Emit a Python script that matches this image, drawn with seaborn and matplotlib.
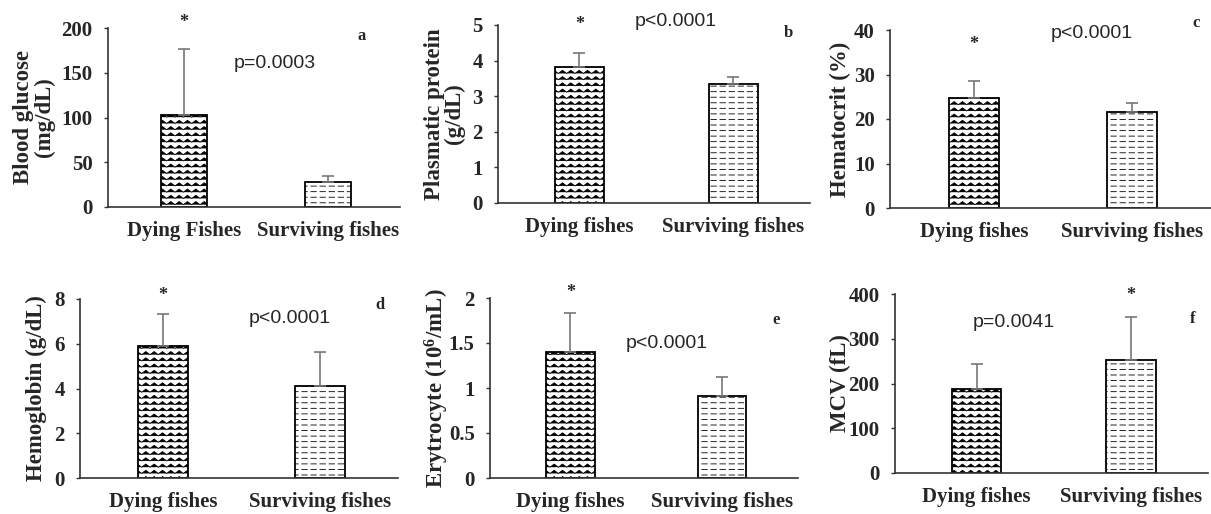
import warnings
import numpy as np
import pandas as pd
import seaborn as sns
import matplotlib
matplotlib.use("Agg")
import matplotlib.pyplot as plt
import matplotlib.hatch as mhatch
from matplotlib.path import Path

warnings.filterwarnings("ignore")

# groups on the x axis
groups_lower = ["Dying fishes", "Surviving fishes"]
groups_a = ["Dying Fishes", "Surviving fishes"]

# means and upper error (SD)
glucose = [103, 28]
glucose_sd = [73, 7]
protein = [3.82, 3.33]
protein_sd = [0.38, 0.22]
hematocrit = [24.8, 21.5]
hematocrit_sd = [3.7, 2.0]
hemoglobin = [5.9, 4.1]
hemoglobin_sd = [1.45, 1.55]
erythrocyte = [1.40, 0.91]
erythrocyte_sd = [0.43, 0.21]
mcv = [188, 253]
mcv_sd = [56, 95]

ylabels = ["Blood glucose\n(mg/dL)", "Plasmatic protein\n(g/dL)", "Hematocrit (%)",
           "Hemoglobin (g/dL)", "Erytrocyte (10$^6$/mL)", "MCV (fL)"]
pvalues = ["p=0.0003", "p<0.0001", "p<0.0001", "p<0.0001", "p<0.0001", "p=0.0041"]
letters = ["a", "b", "c", "d", "e", "f"]
star_group = [0, 0, 0, 0, 0, 1]


# custom hatches: zigzag ('z') and dashed rows ('d')
class ZigZagHatch(mhatch.HatchPatternBase):
    def __init__(self, hatch, density):
        self.rows = int(hatch.count("z") * density * 0.9)
        self.peaks = 12
        self.num_vertices = self.rows * (2 * self.peaks + 1)

    def set_vertices_and_codes(self, vertices, codes):
        n = 2 * self.peaks + 1
        xs = np.linspace(0, 1, n)
        amp = 0.25 / self.rows
        wave = np.where(np.arange(n) % 2 == 0, -amp, amp)
        for r in range(self.rows):
            y0 = (r + 0.5) / self.rows
            vertices[r * n:(r + 1) * n, 0] = xs
            vertices[r * n:(r + 1) * n, 1] = y0 + wave
            codes[r * n] = Path.MOVETO
            codes[r * n + 1:(r + 1) * n] = Path.LINETO


class DashHatch(mhatch.HatchPatternBase):
    def __init__(self, hatch, density):
        self.rows = int(hatch.count("d") * density)
        self.per = 11
        self.num_vertices = self.rows * self.per * 2

    def set_vertices_and_codes(self, vertices, codes):
        i = 0
        for r in range(self.rows):
            y = (r + 0.5) / self.rows
            for k in range(self.per):
                x0 = (k + 0.2) / self.per
                vertices[i] = (x0, y)
                vertices[i + 1] = (x0 + 0.6 / self.per, y)
                codes[i] = Path.MOVETO
                codes[i + 1] = Path.LINETO
                i += 2


mhatch._hatch_types.extend([ZigZagHatch, DashHatch])

sns.set_theme(style="white")
plt.rcParams["font.family"] = ["Liberation Serif", "DejaVu Serif"]
plt.rcParams["font.weight"] = "bold"
plt.rcParams["mathtext.fontset"] = "custom"
plt.rcParams["mathtext.rm"] = "Liberation Serif:bold"
plt.rcParams["mathtext.it"] = "Liberation Serif:bold"
plt.rcParams["mathtext.bf"] = "Liberation Serif:bold"
plt.rcParams["hatch.linewidth"] = 0.6
plt.rcParams["hatch.color"] = "#222222"

fig = plt.figure(figsize=(12.11, 5.14), dpi=100)
W, H = 1211, 514

# axes boxes in pixels: left, right, top, bottom
boxes = [(108, 400, 28, 207), (498, 810, 25, 203), (890, 1211, 30, 208),
         (80, 398, 299, 478), (490, 798, 298, 478), (895, 1208, 294, 473)]

panels = [
    (groups_a, glucose, glucose_sd, 200, 50),
    (groups_lower, protein, protein_sd, 5, 1),
    (groups_lower, hematocrit, hematocrit_sd, 40, 10),
    (groups_lower, hemoglobin, hemoglobin_sd, 8, 2),
    (groups_lower, erythrocyte, erythrocyte_sd, 2, 0.5),
    (groups_lower, mcv, mcv_sd, 400, 100),
]

# annotation spots in axes fraction: p-value, panel letter, star height
p_pos = [(0.57, 0.80), (0.57, 1.02), (0.63, 0.98), (0.66, 0.89), (0.575, 0.75), (0.38, 0.84)]
l_pos = [(0.87, 0.955), (0.93, 0.955), (0.953, 1.04), (0.943, 0.966), (0.93, 0.88), (0.952, 0.86)]
star_y = [1.03, 1.0, 0.92, 1.02, 1.03, 0.99]
label_pads = [5, 5, 2, 5, -1.5, -1.5]

for i, (groups, vals, sds, ymax, step) in enumerate(panels):
    l, r, t, b = boxes[i]
    ax = fig.add_axes([l / W, 1 - b / H, (r - l) / W, (b - t) / H])
    df = pd.DataFrame({"group": groups, "value": vals})
    sns.barplot(data=df, x="group", y="value", ax=ax, color="white",
                width=0.32, errorbar=None, edgecolor="black", linewidth=1.3)
    for patch, h in zip(ax.patches, ["zzz", "ddd"]):
        patch.set_hatch(h)
    ax.errorbar([0, 1], vals, yerr=[[0, 0], sds], fmt="none",
                ecolor="#777777", elinewidth=1.2, capsize=4, capthick=1.2)
    ax.set_xlim(-0.53, 1.5)
    ax.set_ylim(0, ymax)
    ticks = np.arange(0, ymax + step / 2, step)
    ax.set_yticks(ticks)
    ax.set_yticklabels([f"{v:g}" for v in ticks], fontsize=15, fontweight="bold")
    ax.set_xticks([0, 1])
    ax.set_xticklabels(groups, fontsize=15, fontweight="bold")
    ax.set_xlabel("")
    ax.set_ylabel(ylabels[i], fontsize=16.5, fontweight="bold",
                  labelpad=label_pads[i], linespacing=0.95)
    for s in ["top", "right"]:
        ax.spines[s].set_visible(False)
    for s in ["left", "bottom"]:
        ax.spines[s].set_color("#333333")
        ax.spines[s].set_linewidth(1.2)
    ax.tick_params(axis="y", left=True, length=3, width=1.0, color="#333333",
                   direction="out", pad=8)
    ax.tick_params(axis="x", bottom=False, pad=4)
    ax.text(star_group[i], star_y[i], "*", transform=ax.get_xaxis_transform(),
            ha="center", va="center", fontsize=13, fontweight="bold")
    ax.text(p_pos[i][0], p_pos[i][1], pvalues[i], transform=ax.transAxes,
            ha="center", va="center", fontsize=14, fontweight="normal",
            family="Liberation Sans")
    ax.text(l_pos[i][0], l_pos[i][1], letters[i], transform=ax.transAxes,
            ha="center", va="center", fontsize=12, fontweight="bold")
    ax.patch.set_alpha(0)

fig.savefig("out.png", dpi=100)
